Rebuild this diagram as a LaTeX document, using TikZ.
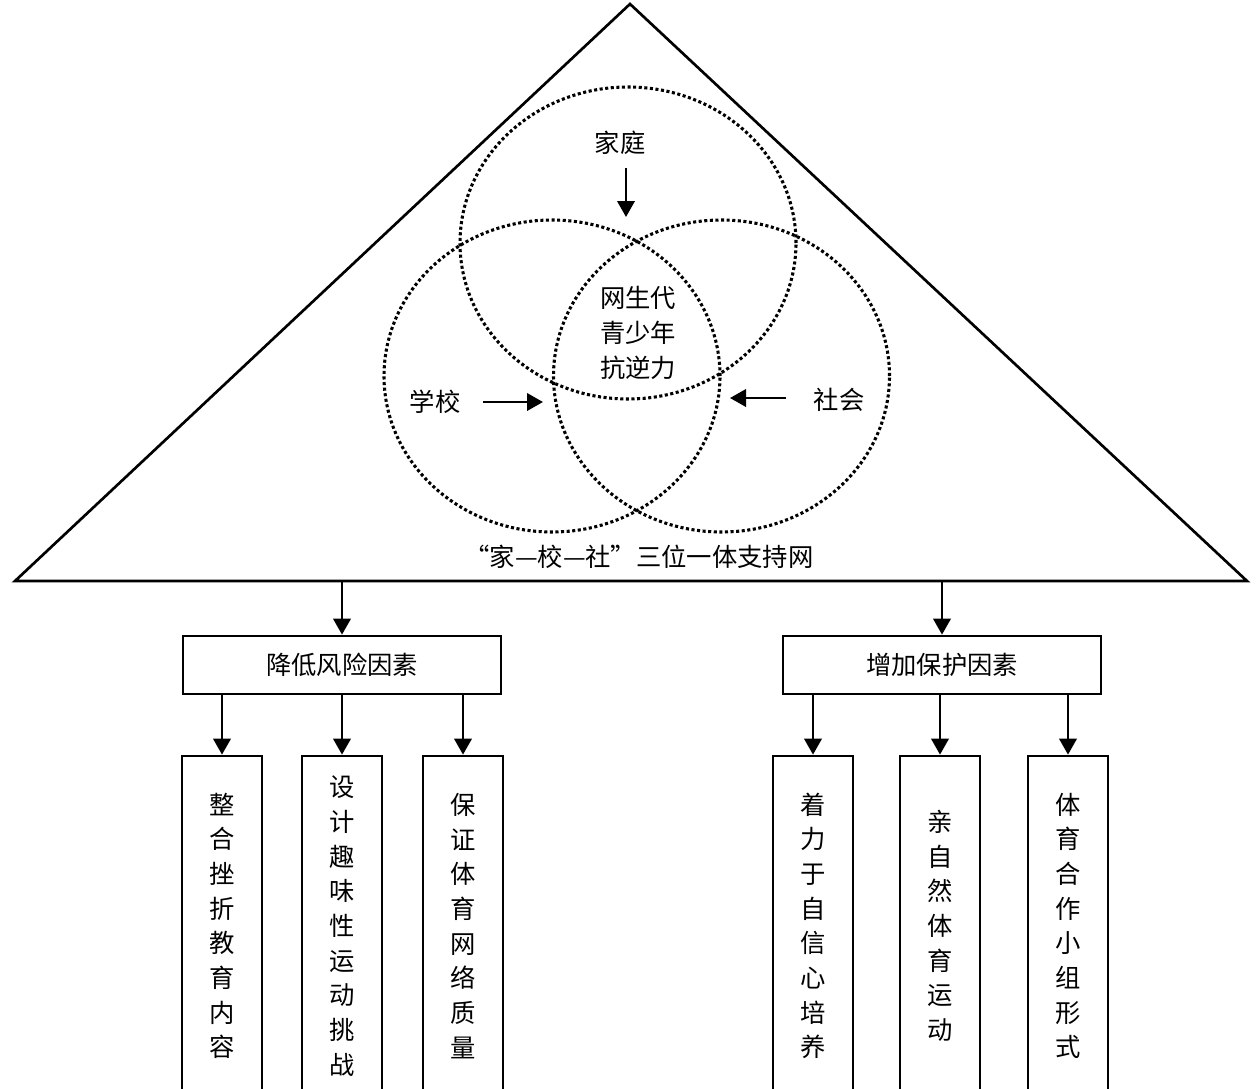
\documentclass[tikz,border=0pt]{standalone}
\usepackage{fontspec}
\newfontfamily\cjk{Noto Sans CJK SC}
\usetikzlibrary{arrows.meta}
\tikzset{
  thick line/.style={line width=2pt},
  arr/.style={line width=2pt,-{Triangle[width=13pt,length=12pt]}},
  dotc/.style={line width=2.3pt,dash pattern=on 2.3pt off 1.9pt},
  lbl/.style={font=\cjk\fontsize{19pt}{26pt}\selectfont,inner sep=0pt,align=center},
  hbox/.style={draw,line width=2pt,minimum width=238.5pt,minimum height=43.5pt,inner sep=0pt,font=\cjk\fontsize{19pt}{26pt}\selectfont},
  vbox/.style={draw,line width=2pt,minimum width=60pt,minimum height=255pt,inner sep=0pt,align=center,font=\cjk\fontsize{19pt}{26pt}\selectfont}
}
\begin{document}
\begin{tikzpicture}[x=0.75pt,y=-0.75pt]
\useasboundingbox (0,0) rectangle (1257,1089);
\clip (0,0) rectangle (1257,1089);
\fill[white] (0,0) rectangle (1257,1089);
% triangle
\coordinate (apex) at (630,4);
\coordinate (bl) at (15,581);
\coordinate (br) at (1247,581);
\draw[thick line,line join=miter] (apex) -- (br) -- (bl) -- cycle;
\coordinate (tl) at (342,581);
\coordinate (tr) at (942,581);
% circles
\draw[dotc] (628,243) ellipse [x radius=126pt, y radius=117pt];
\draw[dotc] (552,376) ellipse [x radius=126pt, y radius=117pt];
\draw[dotc] (721.5,376) ellipse [x radius=126pt, y radius=117pt];
% labels
\node[lbl] (jt) at (620,143) {家庭};
\coordinate (jta) at (626,168);
\coordinate (jtb) at (626,217);
\draw[arr] (jta) -- (jtb);
\node[lbl] (core) at (638,333) {网生代\\青少年\\抗逆力};
\node[lbl] (xx) at (435,402) {学校};
\coordinate (xxa) at (483,402);
\coordinate (xxb) at (543,402);
\draw[arr] (xxa) -- (xxb);
\node[lbl] (sh) at (839,400) {社会};
\coordinate (sha) at (786,398);
\coordinate (shb) at (730,398);
\draw[arr] (sha) -- (shb);
\node[lbl] (cap) at (639,557) {“家—校—社”三位一体支持网};
% header boxes
\node[hbox] (L) at (342,665) {降低风险因素};
\node[hbox] (R) at (942,665) {增加保护因素};
\draw[arr] (tl) -- (L.north);
\draw[arr] (tr) -- (R.north);
% vertical boxes
\node[vbox] (v1) at (222,926) {整\\合\\挫\\折\\教\\育\\内\\容};
\node[vbox] (v2) at (342,926) {设\\计\\趣\\味\\性\\运\\动\\挑\\战};
\node[vbox] (v3) at (463,926) {保\\证\\体\\育\\网\\络\\质\\量};
\node[vbox] (v4) at (813,926) {着\\力\\于\\自\\信\\心\\培\\养};
\node[vbox] (v5) at (940,926) {亲\\自\\然\\体\\育\\运\\动};
\node[vbox] (v6) at (1068,926) {体\\育\\合\\作\\小\\组\\形\\式};
\foreach \v in {v1,v2,v3} \draw[arr] (L.south -| \v.north) -- (\v.north);
\foreach \v in {v4,v5,v6} \draw[arr] (R.south -| \v.north) -- (\v.north);
\end{tikzpicture}
\end{document}
